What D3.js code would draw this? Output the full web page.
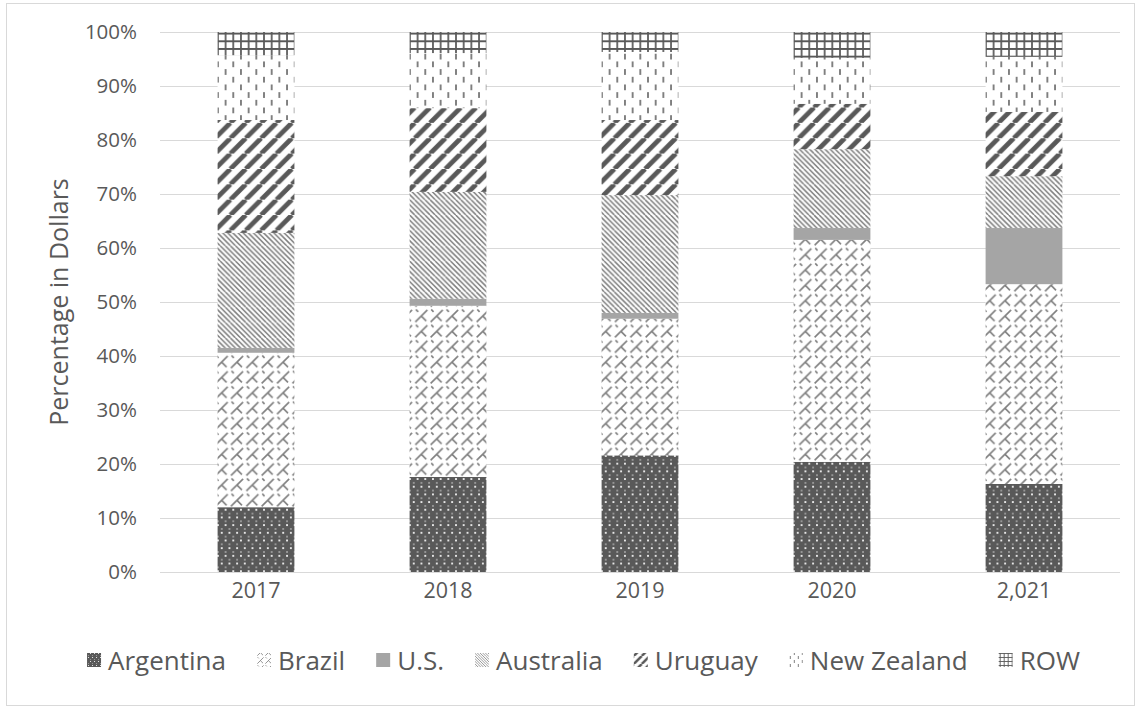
<!DOCTYPE html>
<html>
<head>
<meta charset="utf-8">
<script src="https://cdn.jsdelivr.net/npm/d3@7"></script>
<style>
  body { margin: 0; background: #fff; }
  svg { display: block; }
  text { font-family: "Open Sans", "Noto Sans", sans-serif; fill: #595959; }
</style>
</head>
<body>
<svg id="chart" width="1141" height="709"></svg>
<script>
// Share of import value (in dollars) by supplier, per year
const years = ["2017", "2018", "2019", "2020", "2,021"];
const seriesNames = ["Argentina", "Brazil", "U.S.", "Australia", "Uruguay", "New Zealand", "ROW"];
const argentina  = [12.0, 17.6, 21.6, 20.4, 16.3];
const brazil     = [28.6, 31.7, 25.3, 41.1, 37.0];
const us         = [0.9, 1.3, 1.1, 2.2, 10.4];
const australia  = [21.3, 19.8, 21.8, 14.6, 9.6];
const uruguay    = [20.9, 15.5, 13.9, 8.4, 11.9];
const newZealand = [12.0, 10.2, 12.6, 8.5, 10.2];
const rowShare   = [4.3, 3.9, 3.7, 4.8, 4.6];
const yTicks = [0, 0.1, 0.2, 0.3, 0.4, 0.5, 0.6, 0.7, 0.8, 0.9, 1.0];

const seriesValues = [argentina, brazil, us, australia, uruguay, newZealand, rowShare];
const table = years.map((y, i) => {
  const d = { year: y };
  seriesNames.forEach((s, k) => { d[s] = seriesValues[k][i]; });
  return d;
});

const W = 1141, H = 709;
const margin = { left: 160, right: 21, top: 32, bottom: 137 };
const svg = d3.select("#chart");

// outer chart frame
svg.append("rect")
  .attr("x", 6.5).attr("y", 3.5)
  .attr("width", W - 13).attr("height", H - 7)
  .attr("fill", "#fff").attr("stroke", "#d9d9d9").attr("stroke-width", 1);

// ---- fill patterns (drawn on an 8x8 cell, scaled) ----
const defs = svg.append("defs");
const DARK = "#595959", MID = "#7f7f7f", LIGHT = "#7f7f7f";

function addPattern(id, kind, s) {
  if (kind === "solid") return;
  const p = defs.append("pattern")
    .attr("id", id)
    .attr("patternUnits", "userSpaceOnUse")
    .attr("width", 8).attr("height", 8)
    .attr("patternTransform", `scale(${s})`);
  const bg = kind === "argentina" ? DARK : "#fff";
  p.append("rect").attr("width", 8).attr("height", 8).attr("fill", bg);
  if (kind === "argentina") {
    [[1, 1], [5, 1], [3, 5], [7, 5]].forEach(([x, y]) =>
      p.append("rect").attr("x", x).attr("y", y).attr("width", 1).attr("height", 1).attr("fill", "#e6e6e6"));
    [[3, 3], [7, 3], [1, 7], [5, 7]].forEach(([x, y]) =>
      p.append("rect").attr("x", x).attr("y", y).attr("width", 1).attr("height", 1).attr("fill", "#959595"));
  } else if (kind === "brazil") {
    p.append("path").attr("d", "M0.3,7.7 L6.6,1.4 M3.4,4.6 L6,7.2 M0.6,1.2 L1.8,2.4")
      .attr("stroke", MID).attr("stroke-width", 0.85).attr("fill", "none");
  } else if (kind === "australia") {
    const step = 8 / 3;
    let d = "";
    for (let a = -8; a <= 8; a += step) d += `M${a},0 L${a + 8},8 `;
    p.append("path").attr("d", d).attr("stroke", LIGHT).attr("stroke-width", 0.8).attr("fill", "none");
  } else if (kind === "uruguay") {
    p.append("path").attr("d", "M-8,8 L0,0 M0,8 L8,0 M8,8 L16,0")
      .attr("stroke", DARK).attr("stroke-width", 2.5).attr("fill", "none");
  } else if (kind === "nz") {
    p.append("rect").attr("x", 1).attr("y", 0).attr("width", 1).attr("height", 3).attr("fill", MID);
    p.append("rect").attr("x", 5).attr("y", 4).attr("width", 1).attr("height", 3).attr("fill", MID);
  } else if (kind === "row") {
    p.append("path").attr("d", "M1.5,0 V8 M5.5,0 V8 M0,1.5 H8 M0,5.5 H8")
      .attr("stroke", DARK).attr("stroke-width", 0.9).attr("fill", "none");
  }
}

const kinds = ["argentina", "brazil", "solid", "australia", "uruguay", "nz", "row"];
kinds.forEach((k, i) => {
  addPattern(`bar-${i}`, k, 1.92);
  addPattern(`leg-${i}`, k, 1.0);
});
const barFill = i => kinds[i] === "solid" ? "#a5a5a5" : `url(#bar-${i})`;
const legFill = i => kinds[i] === "solid" ? "#a5a5a5" : `url(#leg-${i})`;

// ---- scales ----
const x = d3.scaleBand()
  .domain(years)
  .range([margin.left, W - margin.right])
  .paddingInner(0.6).paddingOuter(0.3);
const y = d3.scaleLinear().domain([0, 1]).range([H - margin.bottom, margin.top]);

// gridlines
svg.append("g")
  .selectAll("line")
  .data(yTicks)
  .join("line")
  .attr("x1", margin.left).attr("x2", W - margin.right)
  .attr("y1", d => Math.round(y(d)) + 0.5).attr("y2", d => Math.round(y(d)) + 0.5)
  .attr("stroke", "#d9d9d9").attr("stroke-width", 1);

// y axis labels
const yAxis = d3.axisLeft(y).tickValues(yTicks).tickFormat(d3.format(".0%")).tickSize(0).tickPadding(0);
const yg = svg.append("g").attr("transform", `translate(${137},0)`).call(yAxis);
yg.select(".domain").remove();
yg.selectAll("text").style("font-size", "20.5px").style("font-family", null).attr("fill", "#595959");

// stacked bars
const stack = d3.stack().keys(seriesNames).offset(d3.stackOffsetExpand);
const layers = stack(table);
svg.append("g")
  .selectAll("g")
  .data(layers)
  .join("g")
  .attr("fill", (d, i) => barFill(i))
  .selectAll("rect")
  .data(d => d)
  .join("rect")
  .attr("x", d => x(d.data.year))
  .attr("width", x.bandwidth())
  .attr("y", d => y(d[1]))
  .attr("height", d => y(d[0]) - y(d[1]));

// baseline axis line
svg.append("line")
  .attr("x1", margin.left).attr("x2", W - margin.right)
  .attr("y1", Math.round(y(0)) + 0.5).attr("y2", Math.round(y(0)) + 0.5)
  .attr("stroke", "#d9d9d9");

// x axis labels
const xAxis = d3.axisBottom(x).tickSize(0).tickPadding(0);
const xg = svg.append("g").attr("transform", `translate(0,${y(0) + 7})`).call(xAxis);
xg.select(".domain").remove();
xg.selectAll("text").style("font-size", "21.5px").style("font-family", null).attr("fill", "#595959")
  .attr("dy", "0.9em");

// y axis title
svg.append("text")
  .attr("transform", `translate(58,${(y(0) + y(1)) / 2}) rotate(-90)`)
  .attr("text-anchor", "middle")
  .attr("dominant-baseline", "central")
  .style("font-size", "25px")
  .text("Percentage in Dollars");

// legend
const legendY = 660, icon = 14, iconGap = 7, itemGap = 31;
const lg = svg.append("g");
const items = lg.selectAll("g").data(seriesNames).join("g");
items.append("rect")
  .attr("width", icon).attr("height", icon)
  .attr("y", legendY - icon / 2)
  .attr("fill", (d, i) => legFill(i));
items.append("text")
  .attr("x", icon + iconGap)
  .attr("y", legendY)
  .attr("dominant-baseline", "central")
  .style("font-size", "26px")
  .text(d => d);
const widths = [];
items.each(function () { widths.push(icon + iconGap + d3.select(this).select("text").node().getComputedTextLength()); });
const total = d3.sum(widths) + itemGap * (widths.length - 1);
let cx = 583.5 - total / 2;
items.attr("transform", (d, i) => {
  const t = `translate(${cx},0)`;
  cx += widths[i] + itemGap;
  return t;
});
</script>
</body>
</html>
